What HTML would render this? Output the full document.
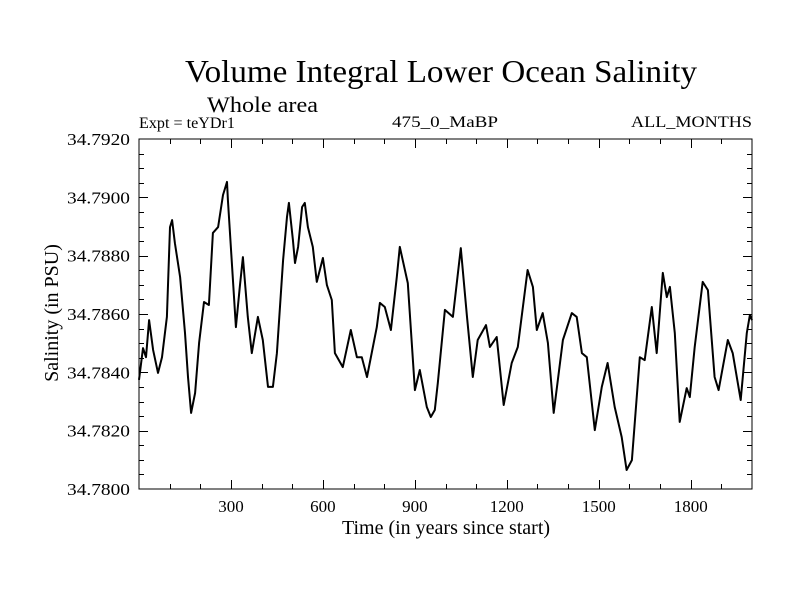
<!DOCTYPE html>
<html><head><meta charset="utf-8"><style>
html,body{margin:0;padding:0;background:#fff;}
svg{display:block;font-family:"Liberation Serif",serif;}
</style></head><body>
<svg id="chart" width="800" height="600" viewBox="0 0 800 600" xmlns="http://www.w3.org/2000/svg">
<rect width="800" height="600" fill="#fff"/>
<text x="441" y="82" font-size="32" text-anchor="middle" textLength="512" lengthAdjust="spacingAndGlyphs">Volume Integral Lower Ocean Salinity</text>
<text x="207" y="112" font-size="22" textLength="111" lengthAdjust="spacingAndGlyphs">Whole area</text>
<text x="139" y="128" font-size="16" textLength="96" lengthAdjust="spacingAndGlyphs">Expt = teYDr1</text>
<text x="445" y="127" font-size="16" text-anchor="middle" textLength="106" lengthAdjust="spacingAndGlyphs">475_0_MaBP</text>
<text x="752" y="127" font-size="16" text-anchor="end" textLength="121" lengthAdjust="spacingAndGlyphs">ALL_MONTHS</text>
<text x="446" y="534" font-size="20" text-anchor="middle">Time (in years since start)</text>
<text x="0" y="0" font-size="20" text-anchor="middle" transform="translate(58,313) rotate(-90)">Salinity (in PSU)</text>
<g id="ticks"></g>
<g id="series"></g>
<rect x="139" y="139" width="613" height="350" fill="none" stroke="#000" stroke-width="1"/>
</svg>
<script>
const years = [0,13,23,33,46,62,75,91,101,108,117,134,150,160,170,183,196,212,228,241,258,274,287,290,316,329,339,355,368,388,404,421,437,450,470,483,489,502,509,519,532,541,551,567,580,600,613,629,639,665,691,711,727,744,776,786,802,822,841,851,877,900,916,939,952,965,975,998,1024,1050,1070,1089,1105,1132,1145,1167,1190,1216,1236,1268,1285,1298,1317,1334,1353,1383,1412,1428,1445,1461,1487,1510,1529,1552,1575,1591,1608,1634,1650,1673,1689,1709,1722,1732,1748,1764,1787,1797,1813,1839,1856,1878,1891,1921,1937,1963,1983,1993,2000];
const salinity = [34.78374,34.78483,34.78452,34.78579,34.78477,34.78398,34.78452,34.78590,34.78898,34.78922,34.78843,34.78727,34.78535,34.78384,34.78261,34.78329,34.78501,34.78641,34.78631,34.78878,34.78898,34.79008,34.79053,34.78991,34.78555,34.78693,34.78795,34.78590,34.78466,34.78590,34.78511,34.78350,34.78350,34.78466,34.78785,34.78933,34.78981,34.78854,34.78775,34.78830,34.78967,34.78981,34.78898,34.78830,34.78710,34.78792,34.78699,34.78648,34.78466,34.78418,34.78545,34.78452,34.78452,34.78384,34.78555,34.78638,34.78624,34.78545,34.78727,34.78830,34.78706,34.78339,34.78408,34.78281,34.78247,34.78271,34.78363,34.78614,34.78590,34.78826,34.78590,34.78384,34.78511,34.78562,34.78487,34.78521,34.78288,34.78432,34.78487,34.78751,34.78693,34.78545,34.78603,34.78501,34.78261,34.78511,34.78603,34.78590,34.78466,34.78452,34.78202,34.78350,34.78432,34.78281,34.78178,34.78065,34.78099,34.78452,34.78442,34.78624,34.78466,34.78741,34.78658,34.78693,34.78535,34.78230,34.78346,34.78315,34.78487,34.78710,34.78682,34.78384,34.78339,34.78511,34.78466,34.78305,34.78535,34.78597,34.78579];
const xTickLabels = ["300","600","900","1200","1500","1800"];
const yTickLabels = ["34.7800","34.7820","34.7840","34.7860","34.7880","34.7900","34.7920"];
const xMin = 0, xMax = 2000, yMin = 34.78, yMax = 34.792;
const L = 139, R = 752, T = 139, B = 489;
function sx(v){ return L + (v - xMin) / (xMax - xMin) * (R - L); }
function sy(v){ return B - (v - yMin) / (yMax - yMin) * (B - T); }
const NS = "http://www.w3.org/2000/svg";
const tg = document.getElementById('ticks');
function line(x1,y1,x2,y2,name){
  const l = document.createElementNS(NS,'line');
  l.setAttribute('x1',x1);l.setAttribute('y1',y1);l.setAttribute('x2',x2);l.setAttribute('y2',y2);
  l.setAttribute('stroke','#000');l.setAttribute('stroke-width','1');
  
  
  tg.appendChild(l);
}
for (let v = 100; v < xMax; v += 100) {
  const x = Math.round(sx(v)) + 0.5;
  const len = (v % 300 === 0) ? 9 : 5;
  line(x, B, x, B - len, 'x-tick');
  line(x, T, x, T + len, 'x-tick-top');
}
for (let i = 1; i < 24; i++) {
  const v = yMin + i * 0.0005;
  const y = Math.round(sy(v)) + 0.5;
  const len = (i % 4 === 0) ? 9 : 5;
  line(L, y, L + len, y, 'y-tick');
  line(R, y, R - len, y, 'y-tick-right');
}
xTickLabels.forEach(s => {
  const t = document.createElementNS(NS,'text');
  t.setAttribute('x', sx(parseFloat(s)));
  t.setAttribute('y', 512);
  t.setAttribute('font-size','17');
  t.setAttribute('text-anchor','middle');
  
  
  t.textContent = s;
  tg.appendChild(t);
});
yTickLabels.forEach(s => {
  const t = document.createElementNS(NS,'text');
  t.setAttribute('x', 130);
  t.setAttribute('y', sy(parseFloat(s)) + 6);
  t.setAttribute('font-size','17');
  t.setAttribute('text-anchor','end');
  t.setAttribute('textLength','63');
  t.setAttribute('lengthAdjust','spacingAndGlyphs');
  
  
  t.textContent = s;
  tg.appendChild(t);
});
const p = document.createElementNS(NS,'polyline');
p.setAttribute('points', years.map((y,i) => sx(y).toFixed(1) + ',' + sy(salinity[i]).toFixed(1)).join(' '));
p.setAttribute('fill','none');
p.setAttribute('stroke','#000');
p.setAttribute('stroke-width','2');
p.setAttribute('stroke-linejoin','round');


document.getElementById('series').appendChild(p);
</script>
</body></html>
